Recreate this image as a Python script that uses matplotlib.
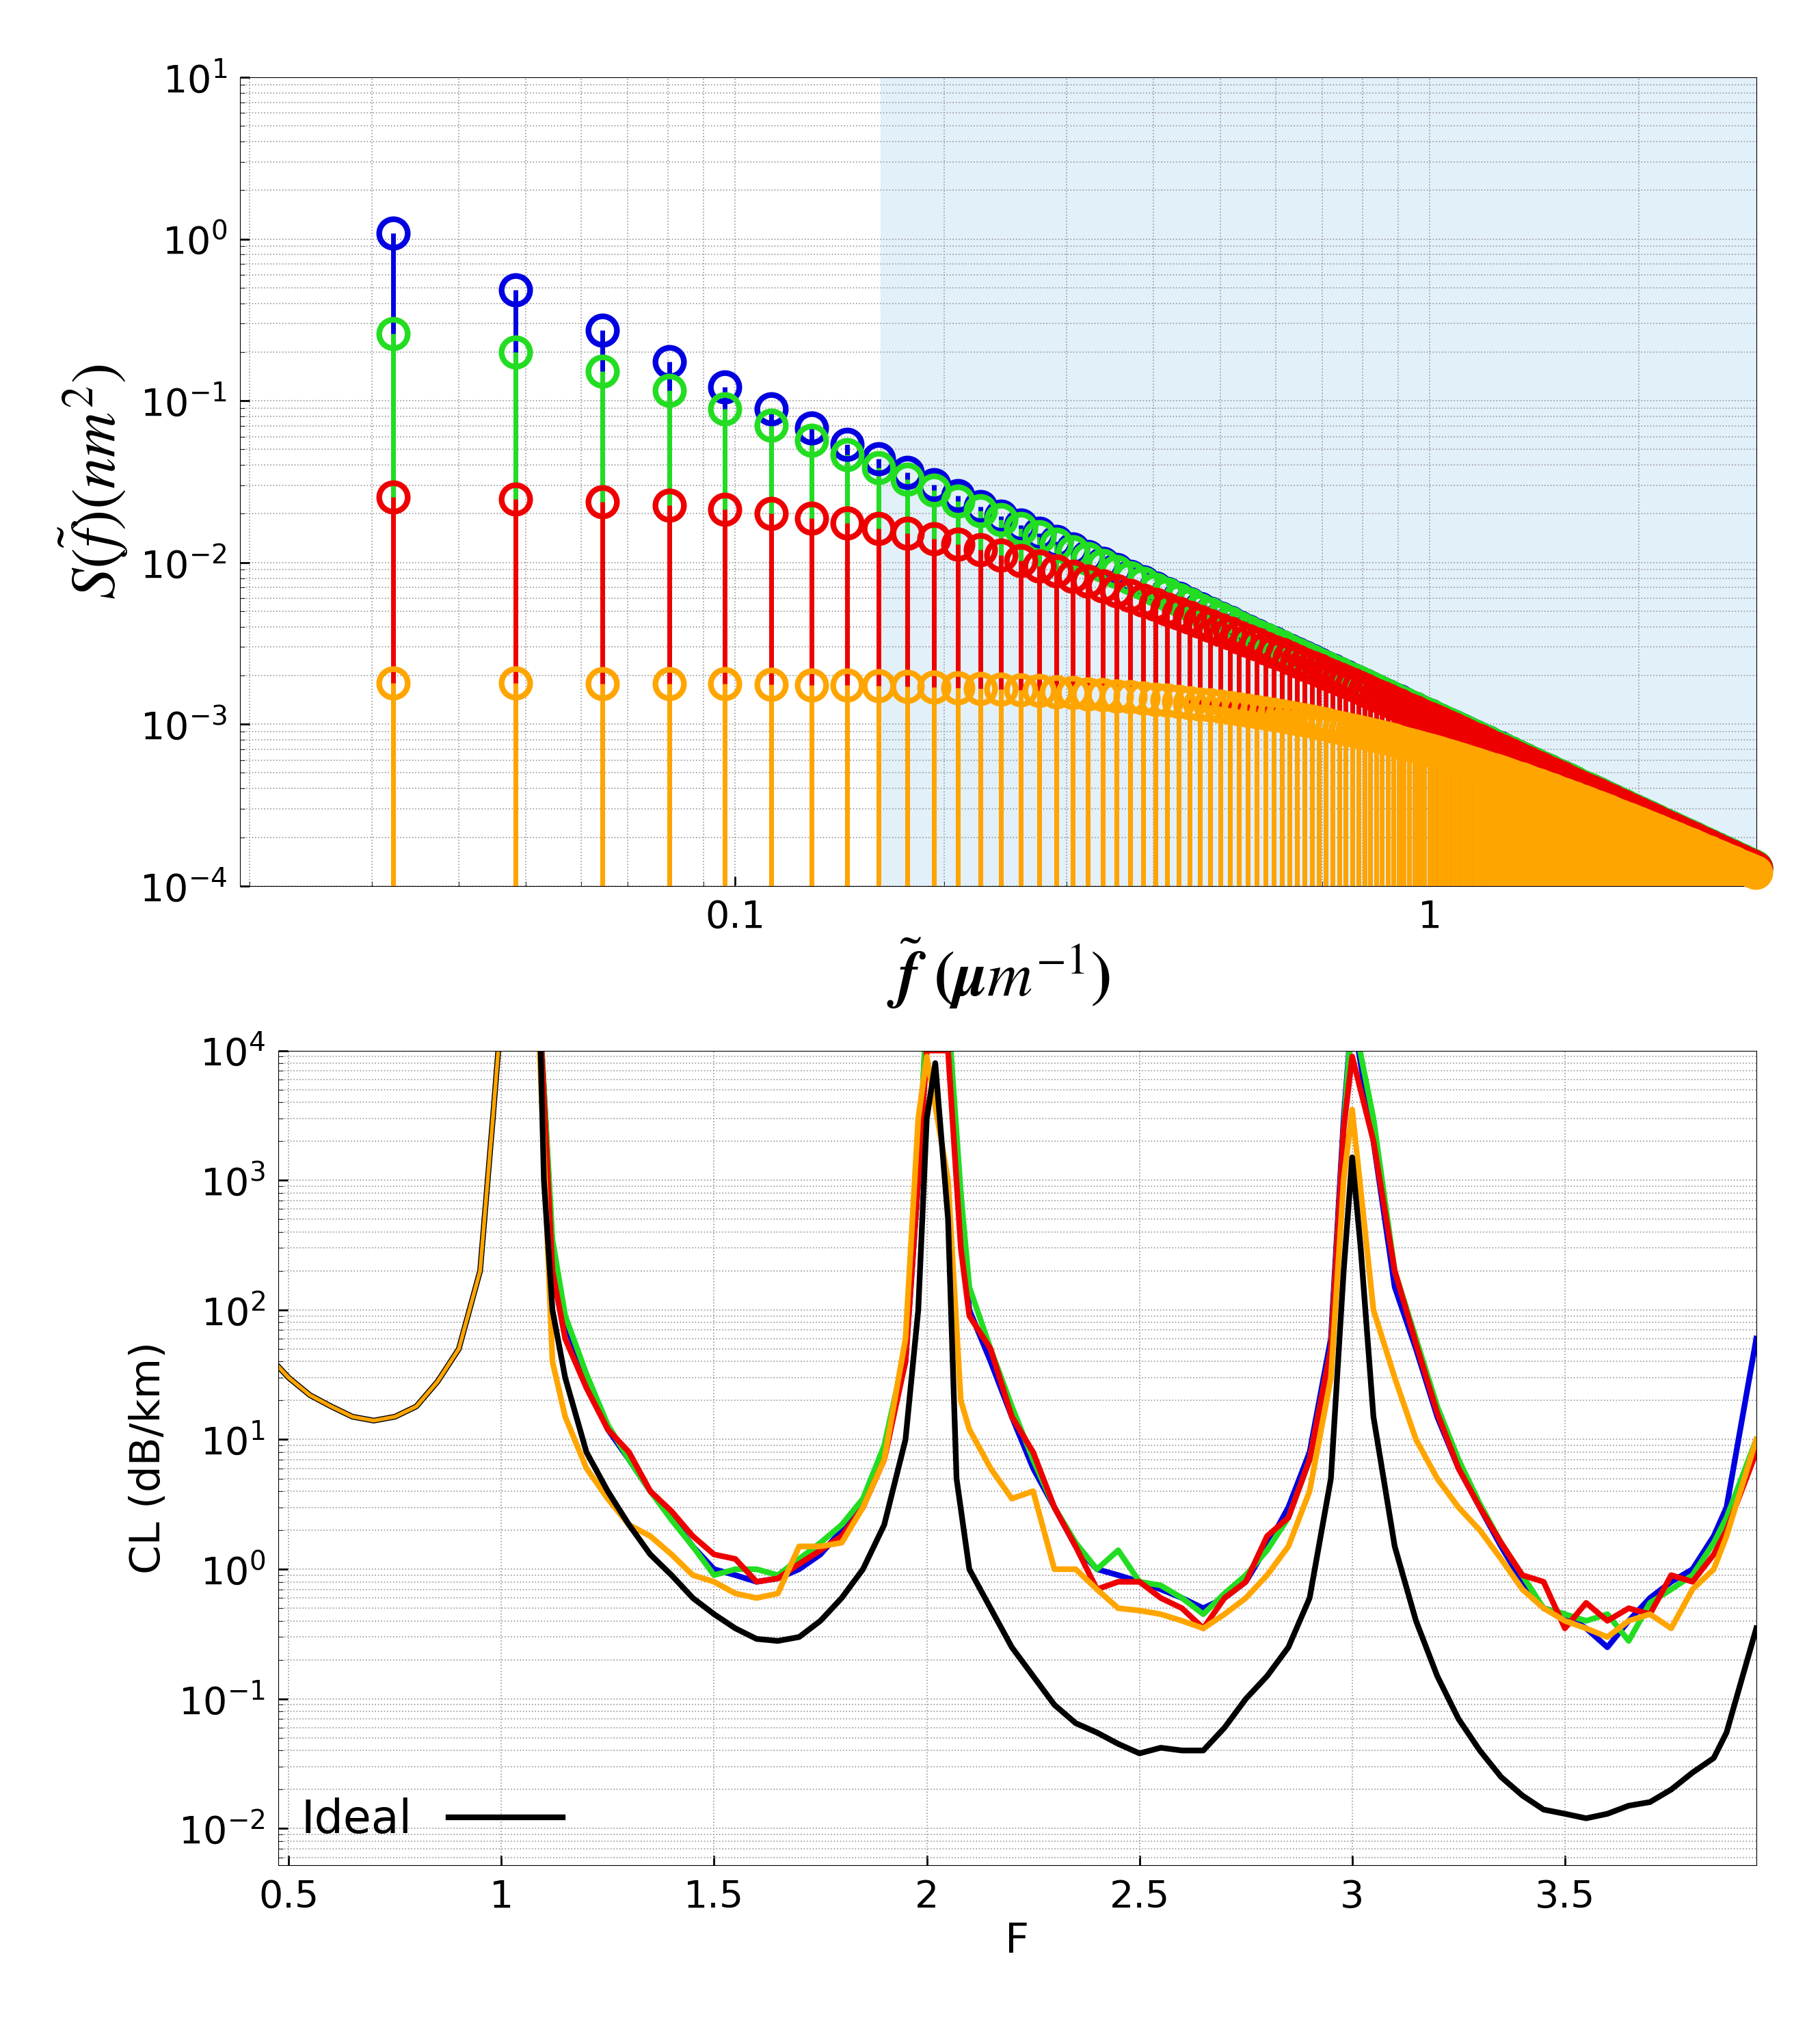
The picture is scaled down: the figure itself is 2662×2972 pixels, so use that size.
import matplotlib.pyplot as plt
import numpy as np

# ---- top panel data: spectral harmonics ----
f_step = 0.0161                     # spacing of harmonics (um^-1)
n_harm = np.arange(2, 184)
spec_amp = [1.0e9, 0.34, 0.026, 0.0018]      # low-f plateau values
spec_corner = [0.0, 0.0577, 0.208, 0.79]     # corner frequency
spec_colors = ['#0000e0', '#22dd22', '#ee0000', '#ffa500']
shade_start = 0.162

# ---- bottom panel data: confinement loss ----
x_low = [0.45, 0.5, 0.55, 0.6, 0.65, 0.7, 0.75, 0.8, 0.85, 0.9, 0.95, 0.98, 1.0]
cl_low = [45, 30, 22, 18, 15, 14, 15, 18, 28, 50, 200, 3000, 2e4]

x_ideal = [1.09, 1.1, 1.12, 1.15, 1.2, 1.25, 1.3, 1.35, 1.4, 1.45, 1.5, 1.55, 1.6, 1.65,
           1.7, 1.75, 1.8, 1.85, 1.9, 1.95, 1.98, 2.0, 2.02, 2.05, 2.07, 2.1, 2.15, 2.2,
           2.25, 2.3, 2.35, 2.4, 2.45, 2.5, 2.55, 2.6, 2.65, 2.7, 2.75, 2.8, 2.85, 2.9,
           2.95, 2.98, 3.0, 3.02, 3.05, 3.1, 3.15, 3.2, 3.25, 3.3, 3.35, 3.4, 3.45, 3.5,
           3.55, 3.6, 3.65, 3.7, 3.75, 3.8, 3.85, 3.88, 3.95]
cl_ideal = [2e4, 1000, 100, 30, 8, 4, 2.2, 1.3, 0.9, 0.6, 0.45, 0.35, 0.29, 0.28,
            0.3, 0.4, 0.6, 1.0, 2.2, 10, 100, 3000, 8000, 500, 5, 1, 0.5, 0.25,
            0.15, 0.09, 0.065, 0.055, 0.045, 0.038, 0.042, 0.04, 0.04, 0.06, 0.1, 0.15, 0.25, 0.6,
            5, 200, 1500, 300, 15, 1.5, 0.4, 0.15, 0.07, 0.04, 0.025, 0.018, 0.014, 0.013,
            0.012, 0.013, 0.015, 0.016, 0.02, 0.027, 0.035, 0.055, 0.35]

x_rough = [1.09, 1.12, 1.15, 1.2, 1.25, 1.3, 1.35, 1.4, 1.45, 1.5, 1.55, 1.6, 1.65, 1.7,
           1.75, 1.8, 1.85, 1.9, 1.95, 1.98, 2.0, 2.05, 2.08, 2.1, 2.15, 2.2, 2.25, 2.3,
           2.35, 2.4, 2.45, 2.5, 2.55, 2.6, 2.65, 2.7, 2.75, 2.8, 2.85, 2.9, 2.95, 2.98,
           3.0, 3.05, 3.1, 3.15, 3.2, 3.25, 3.3, 3.35, 3.4, 3.45, 3.5, 3.55, 3.6, 3.65,
           3.7, 3.75, 3.8, 3.85, 3.88, 3.95]
cl_blue = [2e4, 300, 80, 30, 12, 7, 4, 2.5, 1.5, 1.0, 0.9, 0.8, 0.85, 1.0,
           1.3, 2, 3, 8, 40, 1000, 2e4, 2e4, 500, 100, 40, 15, 6, 3,
           1.5, 1.0, 0.9, 0.8, 0.7, 0.6, 0.5, 0.6, 0.8, 1.5, 3, 8, 60, 3000,
           2e4, 2000, 150, 50, 15, 6, 3, 1.5, 0.8, 0.5, 0.45, 0.35, 0.25, 0.4,
           0.6, 0.8, 1.0, 1.8, 3, 60]
cl_green = [2e4, 350, 90, 32, 13, 7, 4, 2.4, 1.5, 0.9, 1.0, 1.0, 0.9, 1.2,
            1.6, 2.2, 3.5, 9, 50, 1200, 2e4, 2e4, 800, 150, 50, 18, 7, 3,
            1.6, 1.0, 1.4, 0.8, 0.75, 0.6, 0.45, 0.65, 0.9, 1.4, 2.5, 7, 50, 2500,
            2e4, 3000, 200, 60, 18, 7, 3.2, 1.6, 0.9, 0.5, 0.45, 0.4, 0.45, 0.28,
            0.55, 0.7, 0.9, 1.6, 2.5, 10]
cl_red = [2e4, 200, 60, 25, 12, 8, 4, 2.8, 1.8, 1.3, 1.2, 0.8, 0.85, 1.1,
          1.4, 1.8, 3, 7, 40, 1000, 1e4, 1e4, 300, 90, 50, 15, 8, 3,
          1.5, 0.7, 0.8, 0.8, 0.6, 0.5, 0.35, 0.6, 0.8, 1.8, 2.5, 7, 50, 2500,
          9000, 2000, 200, 55, 16, 6, 3, 1.6, 0.9, 0.8, 0.35, 0.55, 0.4, 0.5,
          0.45, 0.9, 0.8, 1.3, 2, 8]
cl_orange = [1e4, 40, 15, 6, 3.5, 2.2, 1.8, 1.3, 0.9, 0.8, 0.65, 0.6, 0.65, 1.5,
             1.5, 1.6, 3, 7, 60, 3000, 9000, 1000, 20, 12, 6, 3.5, 4, 1.0,
             1.0, 0.7, 0.5, 0.48, 0.45, 0.4, 0.35, 0.45, 0.6, 0.9, 1.5, 4, 30, 1000,
             3500, 100, 30, 10, 5, 3, 2, 1.2, 0.7, 0.5, 0.4, 0.35, 0.3, 0.4,
             0.45, 0.35, 0.7, 1.0, 1.8, 10]

plt.rcParams['mathtext.fontset'] = 'stix'
plt.rcParams['font.family'] = 'DejaVu Sans'
fig = plt.figure(figsize=(26.62, 29.72), dpi=100)

# ---------------- top panel ----------------
ax1 = fig.add_axes([0.132, 0.564, 0.833, 0.398])
ax1.set_xscale('log')
ax1.set_yscale('log')
ax1.set_xlim(0.0194, 2.95)
ax1.set_ylim(1e-4, 1e1)
ax1.axvspan(shade_start, 10, color='#e2f0f9', zorder=0)
freqs = n_harm * f_step
for amp, fc, col in zip(spec_amp, spec_corner, spec_colors):
    if fc == 0:
        s = 1.13e-3 / freqs ** 2
    else:
        s = amp / (1 + (freqs / fc) ** 2)
    ax1.vlines(freqs, 1e-5, s, color=col, lw=5, zorder=2)
    ax1.plot(freqs, s, 'o', mfc='none', mec=col, mew=6, ms=30, zorder=3, clip_on=False)
ax1.grid(True, which='both', ls=':', color='#999999', lw=1.2)
ax1.set_xticks([0.1, 1])
ax1.set_xticklabels(['0.1', '1'])
ax1.tick_params(labelsize=40, length=10, width=2, pad=14, direction='in')
ax1.tick_params(which='minor', length=5, direction='in')
ax1.set_ylabel(r'$S(\tilde{f})(nm^2)$', fontsize=66, labelpad=10)
ax1.set_xlabel(r'$\tilde{\boldsymbol{f}}\ \boldsymbol{(\mu m^{-1})}$', fontsize=66, labelpad=0)

# ---------------- bottom panel ----------------
ax2 = fig.add_axes([0.153, 0.082, 0.812, 0.401])
ax2.set_yscale('log')
ax2.set_xlim(0.476, 3.95)
ax2.set_ylim(5.2e-3, 1e4)
lw = 6
for cl, col in [(cl_blue, '#0000e0'), (cl_green, '#22dd22'), (cl_red, '#ee0000'), (cl_orange, '#ffa500')]:
    ax2.plot(x_rough, cl, color=col, lw=lw)
ax2.plot(x_ideal, cl_ideal, color='black', lw=lw, label='Ideal')
ax2.plot(x_low, cl_low, color='black', lw=lw)
ax2.plot(x_low, cl_low, color='#ffa500', lw=lw - 2)
ax2.grid(True, which='both', ls=':', color='#999999', lw=1.2)
ax2.set_xticks([0.5, 1, 1.5, 2, 2.5, 3, 3.5])
ax2.set_xticklabels(['0.5', '1', '1.5', '2', '2.5', '3', '3.5'])
ax2.tick_params(labelsize=40, length=10, width=2, pad=14, direction='in')
ax2.tick_params(which='minor', length=5, direction='in')
ax2.set_xlabel('F', fontsize=44, labelpad=6)
ax2.set_ylabel('CL (dB/km)', fontsize=44, labelpad=10)
ax2.legend(loc='lower left', frameon=False, fontsize=48, markerfirst=False,
           handlelength=2.5, borderaxespad=0.1)

fig.savefig('out.png', dpi=100)
